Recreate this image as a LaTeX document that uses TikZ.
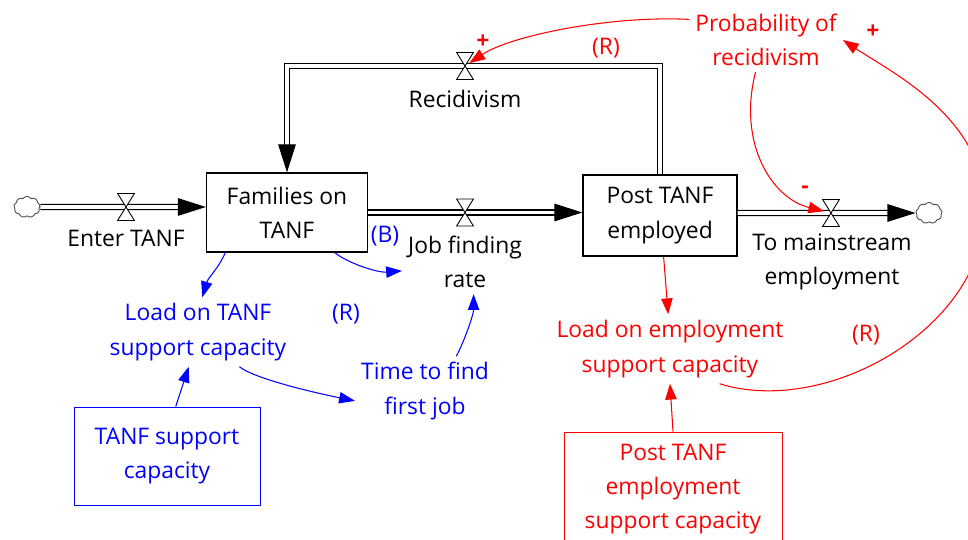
\documentclass[tikz,border=0pt]{standalone}
\usepackage{fontspec}
\setmainfont{Open Sans}
\usetikzlibrary{arrows.meta,shapes.symbols}

\definecolor{vred}{RGB}{255,0,0}
\definecolor{vblue}{RGB}{0,0,255}

\tikzset{
  every node/.style={font=\fontsize{13}{19.5}\selectfont, align=center},
  stock/.style={draw, line width=0.7pt},
  pipe/.style={double, double distance=2.2pt, line width=0.7pt, -{Triangle[length=16pt,width=10pt]}},
  valve/.pic={\draw[fill=white, line width=0.5pt] (-4.8pt,-7.7pt) -- (4.8pt,-7.7pt) -- (-4.8pt,7.7pt) -- (4.8pt,7.7pt) -- cycle;},
  sink/.style={cloud, cloud puffs=9, cloud puff arc=110, draw=black!70, line width=0.5pt, minimum width=15pt, minimum height=12pt, inner sep=0pt, aspect=1.3},
  infl/.style={line width=0.6pt, -{Triangle[length=9pt,width=6.5pt]}},
  sign/.style={font=\fontsize{13}{13}\selectfont\bfseries},
}

\begin{document}
\begin{tikzpicture}[x=0.02cm, y=-0.02cm]
\useasboundingbox (0,0) rectangle (968,540);
\clip (0,0) rectangle (968,540);

% stocks and clouds
\node[stock, minimum width=3.22cm, minimum height=1.58cm] (fam) at (287,212.5) {Families on\\TANF};
\node[stock, minimum width=3.08cm, minimum height=1.62cm] (post) at (660,215.5) {Post TANF\\employed};
\node[sink] (src) at (27,207) {};
\node[sink] (snk) at (929,213) {};

% valves
\coordinate (venter) at (126,207);
\coordinate (vjob) at (465,212.5);
\coordinate (vmain) at (831,213);
\coordinate (vrecid) at (465,66);
\coordinate (rloop) at (985,215);

% flows
\draw[pipe] (src.east) -- (src -| fam.west);
\draw[pipe] (fam.east) -- (fam.east -| post.west);
\draw[pipe] (post.east |- snk) -- (snk.west);
\draw[pipe] (post.north) |- (vrecid) -| (fam.north);
\foreach \v in {venter,vjob,vmain,vrecid}
  \pic at (\v) {valve};

\node (enter) at (126,238) {Enter TANF};
\node (jobrate) at (465,262) {Job finding\\rate};
\node (mainst) at (832,262) {To mainstream\\employment};
\node (recid) at (465,99) {Recidivism};

% employment side
\node[vred] (prob) at (766,40) {Probability of\\recidivism};
\node[vred] (loademp) at (670,349) {Load on employment\\support capacity};
\node[vred, draw, line width=0.5pt, minimum width=4.36cm, minimum height=2.28cm] (empcap) at (673,489) {Post TANF\\employment\\support capacity};

\draw[infl, vred, shorten >=3pt] (prob.165) .. controls +(-80,-4) and +(45,-30) .. (vrecid);
\draw[infl, vred, shorten >=4pt] (prob.252) .. controls +(-18,70) and +(-60,-15) .. (vmain);
\draw[infl, vred] (loademp.-35) .. controls +(106,33) and +(-5,115) .. (rloop)
  .. controls +(5,-95) and +(48,32) .. (prob.east);
\draw[infl, vred] (post.-85) -- (loademp.93);
\draw[infl, vred] (empcap.north) -- (loademp.south);

\node[vred, sign] at (483,42) {+};
\node[vred, sign] at (805,190) {-};
\node[vred, sign] at (873,32) {+};
\node[vred] (loopa) at (606,48) {(R)};
\node[vred] (loopb) at (866,335) {(R)};

% TANF side
\node[vblue] (loadtanf) at (198,332) {Load on TANF\\support capacity};
\node[vblue] (timejob) at (425,391) {Time to find\\first job};
\node[vblue, draw, line width=0.5pt, minimum width=3.72cm, minimum height=1.96cm] (tanfcap) at (167,456) {TANF support\\capacity};

\draw[infl, vblue] (fam.213) .. controls +(-6,15) and +(6,-20) .. (loadtanf.83);
\draw[infl, vblue] (fam.320) .. controls +(12,10) and +(-25,2) .. (jobrate.188);
\draw[infl, vblue] (loadtanf.320) .. controls +(15,12) and +(-40,-8) .. (timejob.188);
\draw[infl, vblue] (timejob.48) .. controls +(8,-15) and +(0,20) .. (jobrate.-75);
\draw[infl, vblue] (tanfcap.80) -- (loadtanf.255);

\node[vblue] (loopc) at (385,236) {(B)};
\node[vblue] (loopd) at (346,314) {(R)};
\end{tikzpicture}
\end{document}
